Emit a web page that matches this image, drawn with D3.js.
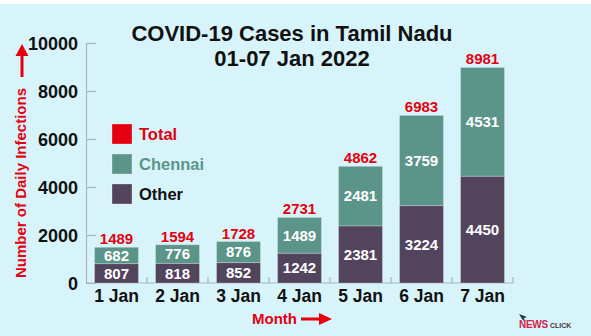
<!DOCTYPE html>
<html>
<head>
<meta charset="utf-8">
<script src="https://cdn.jsdelivr.net/npm/d3@7"></script>
<style>
html,body{margin:0;padding:0;background:#fff;}
svg{display:block;font-family:"Liberation Sans",Arial,sans-serif;}
</style>
</head>
<body>
<svg id="chart" width="591" height="336"></svg>
<script>
const days = ["1 Jan","2 Jan","3 Jan","4 Jan","5 Jan","6 Jan","7 Jan"];
const other = [807,818,852,1242,2381,3224,4450];
const chennai = [682,776,876,1489,2481,3759,4531];
const total = [1489,1594,1728,2731,4862,6983,8981];
const yTicks = [0,2000,4000,6000,8000,10000];
const legendItems = ["Total","Chennai","Other"];

const cRed = "#e4000f", cChen = "#5b9488", cOther = "#53445d", cAxis = "#a9b5b9";
const svg = d3.select("#chart");
svg.append("rect").attr("x",0).attr("y",0).attr("width",591).attr("height",336).attr("fill","#fff");
svg.append("rect").attr("x",0).attr("y",4).attr("width",591).attr("height",332).attr("fill","#d8f4fb");

const x = d3.scaleBand().domain(days).range([86,513]).paddingInner(0.28).paddingOuter(0.14);
const y = d3.scaleLinear().domain([0,10000]).range([283,43]);

// title
const title = svg.append("text").attr("text-anchor","middle").attr("font-weight","bold")
  .attr("font-size",22).attr("fill","#111");
title.append("tspan").attr("x",292).attr("y",41).text("COVID-19 Cases in Tamil Nadu");
title.append("tspan").attr("x",292).attr("y",66).text("01-07 Jan 2022");

// y axis
const yAxis = d3.axisLeft(y).tickValues(yTicks).tickSizeInner(-10).tickSizeOuter(0).tickPadding(8).tickFormat(d3.format("d"));
const gy = svg.append("g").attr("transform","translate(86,0)").call(yAxis);
gy.selectAll("path,line").attr("stroke",cAxis).attr("stroke-width",1.2);
gy.selectAll("text").attr("font-size",18).attr("font-weight","bold").attr("fill","#111")
  .attr("font-family","Liberation Sans, Arial, sans-serif").attr("dy","0.36em");

// x axis
svg.append("line").attr("x1",86).attr("x2",x.range()[1]).attr("y1",y(0)).attr("y2",y(0))
  .attr("stroke",cAxis).attr("stroke-width",1.2);
const bounds = d3.range(1, days.length+1).map(i => x.range()[0] + i*x.step());
svg.selectAll(".xt").data(bounds).join("line").attr("x1",d=>d).attr("x2",d=>d)
  .attr("y1",y(0)).attr("y2",y(0)-6).attr("stroke",cAxis).attr("stroke-width",1.2);
svg.selectAll(".xl").data(days).join("text")
  .attr("x",d=>x(d)+x.bandwidth()/2).attr("y",302).attr("text-anchor","middle")
  .attr("font-size",17.5).attr("font-weight","bold").attr("fill","#111").text(d=>d);

// bars
const bw = x.bandwidth();
const g = svg.append("g");
days.forEach((d,i)=>{
  const x0 = x(d);
  g.append("rect").attr("x",x0).attr("width",bw).attr("y",y(other[i])).attr("height",y(0)-y(other[i]))
    .attr("fill",cOther).attr("stroke","rgba(255,255,255,0.25)").attr("stroke-width",1);
  g.append("rect").attr("x",x0).attr("width",bw).attr("y",y(other[i]+chennai[i])).attr("height",y(other[i])-y(other[i]+chennai[i]))
    .attr("fill",cChen).attr("stroke","rgba(255,255,255,0.25)").attr("stroke-width",1);
  g.append("text").attr("x",x0+bw/2).attr("y",(y(0)+y(other[i]))/2).attr("dy","0.36em")
    .attr("text-anchor","middle").attr("font-size",15).attr("font-weight","bold").attr("fill","#fff").text(other[i]);
  g.append("text").attr("x",x0+bw/2).attr("y",(y(other[i])+y(other[i]+chennai[i]))/2).attr("dy","0.36em")
    .attr("text-anchor","middle").attr("font-size",15).attr("font-weight","bold").attr("fill","#fff").text(chennai[i]);
  g.append("text").attr("x",x0+bw/2).attr("y",y(total[i])-3)
    .attr("text-anchor","middle").attr("font-size",15).attr("font-weight","bold").attr("fill",cRed).text(total[i]);
});

// legend
const legColors = [cRed,cChen,cOther];
const legText = [cRed,cChen,"#111"];
legendItems.forEach((t,i)=>{
  const ty = 124 + i*30;
  svg.append("rect").attr("x",112).attr("y",ty).attr("width",20).attr("height",20).attr("fill",legColors[i])
    .attr("stroke","rgba(255,255,255,0.3)");
  svg.append("text").attr("x",139).attr("y",ty+16).attr("font-size",16.5).attr("font-weight","bold")
    .attr("fill",legText[i]).text(t);
});

// y label
svg.append("text").attr("transform","translate(26,183) rotate(-90)").attr("text-anchor","middle")
  .attr("font-size",15).attr("font-weight","bold").attr("fill",cRed).text("Number of Daily Infections");
svg.append("line").attr("x1",22).attr("x2",22).attr("y1",77).attr("y2",54).attr("stroke",cRed).attr("stroke-width",3);
svg.append("path").attr("d","M15.5,56 L28.5,56 L22,44 Z").attr("fill",cRed);

// x label
svg.append("text").attr("x",252).attr("y",324).attr("font-size",15).attr("font-weight","bold").attr("fill",cRed).text("Month");
svg.append("line").attr("x1",301).attr("x2",321).attr("y1",319).attr("y2",319).attr("stroke",cRed).attr("stroke-width",3);
svg.append("path").attr("d","M319,313 L319,325 L332,319 Z").attr("fill",cRed);

// logo
svg.append("path").attr("d","M519,314 L527,317 L524,318 L525,322 L522,319 Z").attr("fill","#2a3a4a");
svg.append("text").attr("x",519).attr("y",328).attr("font-size",10).attr("font-weight","bold").attr("fill","#d81e4b")
  .attr("letter-spacing",-0.3).text("NEWS");
svg.append("text").attr("x",550).attr("y",328).attr("font-size",7).attr("font-weight","bold").attr("fill","#3a3a3a").text("CLICK");
</script>
</body>
</html>
